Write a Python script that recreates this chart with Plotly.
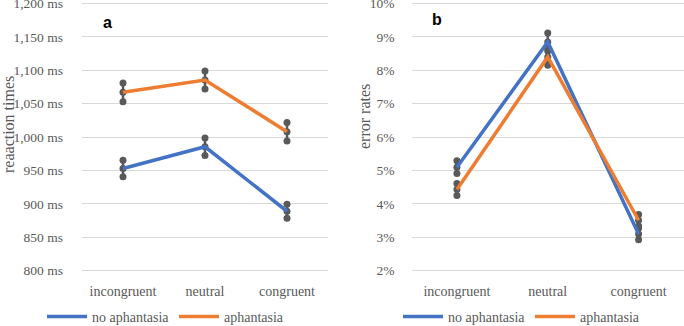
import plotly.graph_objects as go

categories = ["incongruent", "neutral", "congruent"]
series_names = ["no aphantasia", "aphantasia"]

rt_no_aph = [953, 985.5, 889]
rt_no_aph_se = [12.5, 13, 10.5]
rt_aph = [1067, 1085.5, 1008]
rt_aph_se = [14, 13.5, 14]

err_no_aph = [0.051, 0.0885, 0.031]
err_no_aph_se = [0.0019, 0.0027, 0.0017]
err_aph = [0.0443, 0.084, 0.0351]
err_aph_se = [0.0018, 0.0025, 0.0017]

rt_ticks = [800, 850, 900, 950, 1000, 1050, 1100, 1150, 1200]
rt_tick_labels = [f"{v:,} ms" for v in rt_ticks]
err_ticks = [0.02, 0.03, 0.04, 0.05, 0.06, 0.07, 0.08, 0.09, 0.10]
err_tick_labels = [f"{round(v * 100)}%" for v in err_ticks]

BLUE = "#4472C4"
ORANGE = "#ED7D31"
GRAY = "#595959"
GRID = "#D9D9D9"
SERIF = "Liberation Serif"
FS = 14
FS_YTICK = 13.5
FS_TITLE = 16

W, H = 684, 326
fig = go.Figure()


def add_panel(means_list, se_list, xa, ya, legend):
    for means, ses in zip(means_list, se_list):
        lo = [m - s for m, s in zip(means, ses)]
        hi = [m + s for m, s in zip(means, ses)]
        for i, c in enumerate(categories):
            fig.add_trace(go.Scatter(
                x=[c, c, c], y=[lo[i], means[i], hi[i]], mode="lines+markers",
                line=dict(color=GRAY, width=2.5), marker=dict(color=GRAY, size=7),
                xaxis=xa, yaxis=ya, showlegend=False, hoverinfo="skip"))
    for means, name, col in zip(means_list, series_names, [BLUE, ORANGE]):
        fig.add_trace(go.Scatter(
            x=categories, y=means, mode="lines", name=name,
            line=dict(color=col, width=3.5), xaxis=xa, yaxis=ya, legend=legend))


add_panel([rt_no_aph, rt_aph], [rt_no_aph_se, rt_aph_se], "x", "y", "legend")
add_panel([err_no_aph, err_aph], [err_no_aph_se, err_aph_se], "x2", "y2", "legend2")

PAD = 2.0
top_px, bot_px = 3.5 - PAD, 270.7 + PAD
ybot = 1 - bot_px / H
ytop = 1 - top_px / H
rt_pad = PAD * 400 / 267.2
err_pad = PAD * 0.08 / 267.2


def xax(domain, anchor):
    return dict(domain=domain, anchor=anchor, type="category", categoryorder="array",
                categoryarray=categories, range=[-0.5, 2.5], showgrid=False,
                zeroline=False, showline=False, ticks="", automargin=False,
                ticklabelstandoff=8,
                tickfont=dict(family=SERIF, size=FS, color=GRAY))


def yax(anchor, rng, tv, tt, standoff):
    return dict(domain=[ybot, ytop], anchor=anchor, range=rng, tickmode="array",
                tickvals=tv, ticktext=tt, showgrid=True, gridcolor=GRID, gridwidth=1,
                zeroline=False, showline=False, ticks="", automargin=False,
                ticklabeloverflow="allow", ticklabelstandoff=standoff,
                tickfont=dict(family=SERIF, size=FS_YTICK, color=GRAY))


legend_common = dict(orientation="h", yanchor="middle", y=1 - 317 / H,
                     font=dict(family=SERIF, size=FS, color=GRAY),
                     bgcolor="rgba(0,0,0,0)", itemwidth=40, entrywidth=77)


def label(text, x, y, size, color, family=SERIF, angle=0):
    return dict(text=text, x=x / W, y=1 - y / H, xref="paper", yref="paper",
                xanchor="center", yanchor="middle", textangle=angle, showarrow=False,
                font=dict(family=family, size=size, color=color))


fig.update_layout(
    width=W, height=H, margin=dict(l=0, r=0, t=0, b=0, autoexpand=False),
    font=dict(family=SERIF, size=FS, color=GRAY),
    paper_bgcolor="white", plot_bgcolor="white",
    xaxis=xax([82 / W, 328 / W], "y"),
    yaxis=yax("x", [800 - rt_pad, 1200 + rt_pad], rt_ticks, rt_tick_labels, 18),
    xaxis2=xax([411.5 / W, 1.0], "y2"),
    yaxis2=yax("x2", [0.02 - err_pad, 0.10 + err_pad], err_ticks, err_tick_labels, 16),
    legend=dict(x=42 / W, xanchor="left", **legend_common),
    legend2=dict(x=398 / W, xanchor="left", **legend_common),
    annotations=[
        label("reaaction times", 8, 125, FS_TITLE, GRAY, angle=-90),
        label("error rates", 365, 116, FS_TITLE, GRAY, angle=-90),
        label("<b>a</b>", 107, 22, 16, "black", family="Liberation Sans"),
        label("<b>b</b>", 437, 20, 16, "black", family="Liberation Sans"),
    ],
)

fig.write_html("out.html", config={"displayModeBar": False},
               post_script="document.body.style.margin='0';document.body.style.overflow='hidden';")
